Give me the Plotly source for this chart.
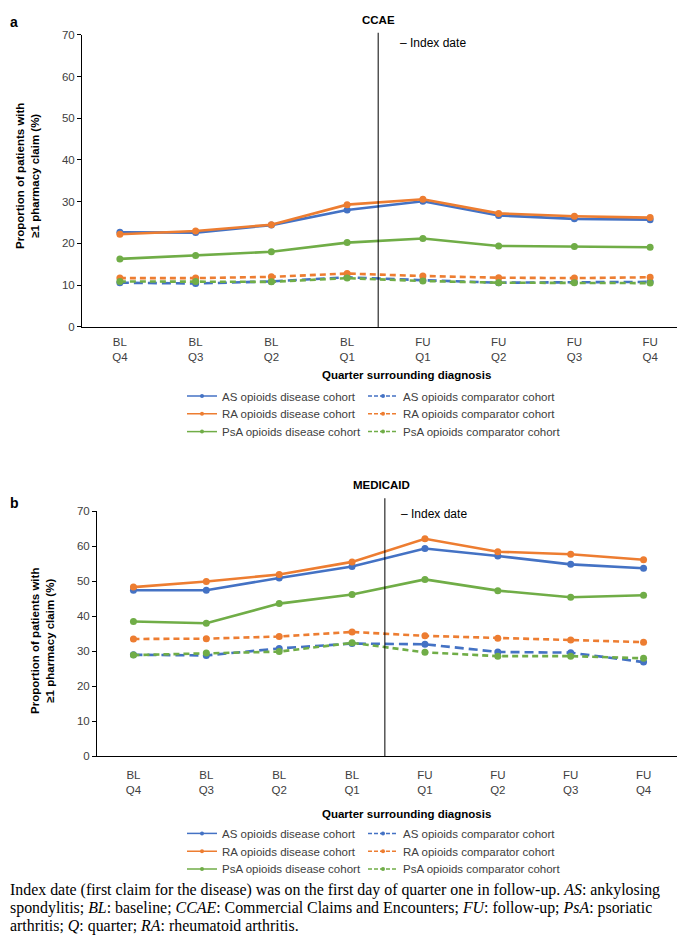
import plotly.graph_objects as go

# The page body adds an 8px margin, so all page-pixel positions below are
# shifted by OFF; the figure is allowed to run past the right window edge.
PAGE_W, PAGE_H = 685, 948
OFF = 8
W, H = PAGE_W, PAGE_H - OFF

quarters = ["BL<br>Q4", "BL<br>Q3", "BL<br>Q2", "BL<br>Q1", "FU<br>Q1", "FU<br>Q2", "FU<br>Q3", "FU<br>Q4"]

series_names = [
    "AS opioids disease cohort", "RA opioids disease cohort", "PsA opioids disease cohort",
    "AS opioids comparator cohort", "RA opioids comparator cohort", "PsA opioids comparator cohort",
]

# Panel a: CCAE
ccae_as_dis = [22.7, 22.6, 24.4, 28.0, 30.1, 26.7, 25.9, 25.7]
ccae_ra_dis = [22.2, 23.0, 24.5, 29.3, 30.6, 27.2, 26.5, 26.2]
ccae_psa_dis = [16.3, 17.1, 18.0, 20.2, 21.2, 19.4, 19.3, 19.1]
ccae_as_comp = [10.6, 10.4, 10.9, 11.9, 11.2, 10.6, 10.7, 10.8]
ccae_ra_comp = [11.7, 11.7, 12.0, 12.8, 12.2, 11.8, 11.7, 11.9]
ccae_psa_comp = [10.9, 10.9, 10.8, 11.7, 11.0, 10.6, 10.6, 10.5]

# Panel b: MEDICAID
med_as_dis = [47.4, 47.4, 50.9, 54.2, 59.3, 57.2, 54.8, 53.7]
med_ra_dis = [48.3, 49.9, 51.9, 55.5, 62.1, 58.4, 57.7, 56.1]
med_psa_dis = [38.5, 38.0, 43.6, 46.2, 50.5, 47.3, 45.4, 46.0]
med_as_comp = [29.0, 28.8, 30.8, 32.2, 32.0, 29.8, 29.6, 26.9]
med_ra_comp = [33.5, 33.6, 34.2, 35.5, 34.4, 33.7, 33.2, 32.6]
med_psa_comp = [28.9, 29.5, 29.9, 32.4, 29.7, 28.6, 28.6, 28.0]

y_ticks = [0, 10, 20, 30, 40, 50, 60, 70]

BLUE, ORANGE, GREEN = "#4472C4", "#ED7D31", "#70AD47"
colors = [BLUE, ORANGE, GREEN, BLUE, ORANGE, GREEN]
dashes = ["solid", "solid", "solid", "9px,5px", "6px,4px", "6px,4px"]

FONT = "Liberation Sans, Arial, sans-serif"
TXT = "#404040"


def px_x(p):
    return (p - OFF) / W


def px_y(p):
    return 1 - (p - OFF) / H


fig = go.Figure()

panels = [
    ("x", "y", [ccae_as_dis, ccae_ra_dis, ccae_psa_dis, ccae_as_comp, ccae_ra_comp, ccae_psa_comp], 0),
    ("x2", "y2", [med_as_dis, med_ra_dis, med_psa_dis, med_as_comp, med_ra_comp, med_psa_comp], 6),
]

for xa, ya, data, leg0 in panels:
    for i, vals in enumerate(data):
        fig.add_trace(go.Scatter(
            x=quarters, y=vals, xaxis=xa, yaxis=ya, mode="lines+markers",
            name=series_names[i], showlegend=False,
            line=dict(color=colors[i], width=2.6, dash=dashes[i]),
            marker=dict(color=colors[i], size=7, symbol="circle"),
        ))
    # legend entries (thin sample lines), one legend per entry for exact placement
    for i in range(6):
        k = leg0 + i + 1
        fig.add_trace(go.Scatter(
            x=[None], y=[None], xaxis=xa, yaxis=ya, mode="lines+markers",
            name=series_names[i], showlegend=True,
            legend="legend" if k == 1 else f"legend{k}",
            line=dict(color=colors[i], width=1.5, dash="solid" if i < 3 else "4px,2px"),
            marker=dict(color=colors[i], size=4),
        ))

axis_common = dict(
    showgrid=False, zeroline=False, showline=True, linecolor="#000000", linewidth=1,
)

# panel geometry (page pixels)
A = dict(l=82, r=688, t=29, b=325)
B = dict(l=97, r=680, t=511.5, b=760)

fig.update_layout(
    width=W, height=H, margin=dict(l=0, r=0, t=0, b=0),
    paper_bgcolor="white", plot_bgcolor="white",
    font=dict(family=FONT, size=11, color=TXT),
    xaxis=dict(domain=[px_x(A["l"]), px_x(A["r"])], anchor="y", type="category",
               categoryorder="array", categoryarray=quarters, range=[-0.5, 7.5],
               ticks="", ticklabelstandoff=4, tickfont=dict(size=11.5, color=TXT), **axis_common),
    yaxis=dict(domain=[px_y(A["b"]), px_y(A["t"])], anchor="x", range=[0, 70],
               tickvals=y_ticks, ticks="outside", ticklen=4, tickcolor="#000000",
               tickfont=dict(size=11.5, color=TXT), **axis_common),
    xaxis2=dict(domain=[px_x(B["l"]), px_x(B["r"])], anchor="y2", type="category",
                categoryorder="array", categoryarray=quarters, range=[-0.5, 7.5],
                ticks="", ticklabelstandoff=8, tickfont=dict(size=11.5, color=TXT), **axis_common),
    yaxis2=dict(domain=[px_y(B["b"]), px_y(B["t"])], anchor="x2", range=[0, 70],
                tickvals=y_ticks, ticks="outside", ticklen=4, tickcolor="#000000",
                tickfont=dict(size=11.5, color=TXT), **axis_common),
)

leg_common = dict(orientation="v", xanchor="left", yanchor="middle", bgcolor="rgba(0,0,0,0)",
                  font=dict(size=11.5, color=TXT, family=FONT), itemwidth=30,
                  itemclick=False, itemdoubleclick=False)
legend_rows = {"a": [395, 413, 431], "b": [838, 856, 874]}
col_text_x = [222, 403]  # page x where legend text starts
legends = {}
for p_idx, key in enumerate(["a", "b"]):
    for i in range(6):
        k = p_idx * 6 + i + 1
        col = 0 if i < 3 else 1
        row = i % 3
        name = "legend" if k == 1 else f"legend{k}"
        legends[name] = dict(x=px_x(col_text_x[col] - 40), y=px_y(legend_rows[key][row]), **leg_common)
fig.update_layout(**legends)

# Index date lines
fig.add_shape(type="line", xref="x", yref="paper", x0=3.41, x1=3.41,
              y0=px_y(A["b"]), y1=px_y(A["t"] - 2), line=dict(color="#000000", width=1))
fig.add_shape(type="line", xref="x2", yref="paper", x0=3.45, x1=3.45,
              y0=px_y(B["b"]), y1=px_y(B["t"] - 13), line=dict(color="#000000", width=1))

ann = []


def add_ann(text, x, y, size=11, bold=False, xanchor="center", yanchor="middle", angle=0,
            family=FONT, color=TXT, align="center"):
    if bold:
        text = "<b>" + text + "</b>"
    ann.append(dict(text=text, x=px_x(x), y=px_y(y), xref="paper", yref="paper",
                    showarrow=False, xanchor=xanchor, yanchor=yanchor, textangle=angle,
                    font=dict(size=size, family=family, color=color), align=align))


# panel labels
add_ann("a", OFF, OFF - 2, size=14, bold=True, xanchor="left", yanchor="top", color="#000000")
add_ann("b", OFF, 503, size=14, bold=True, xanchor="left", color="#000000")
# titles
add_ann("CCAE", 378, 14, size=11.5, bold=True, color="#000000")
add_ann("MEDICAID", 381, 485, size=11.5, bold=True, color="#000000")
# index date
add_ann("– Index date", 398, 37, size=12, xanchor="left", color="#000000")
add_ann("– Index date", 399, 514, size=12, xanchor="left", color="#000000")
# y titles
add_ann("Proportion of patients with<br>≥1 pharmacy claim (%)", 28, 172, size=11.5, bold=True,
        angle=-90, color="#000000")
add_ann("Proportion of patients with<br>≥1 pharmacy claim (%)", 43, 643, size=11.5, bold=True,
        angle=-90, color="#000000")
# x titles
add_ann("Quarter surrounding diagnosis", 406, 374, size=11.5, bold=True, color="#000000")
add_ann("Quarter surrounding diagnosis", 406, 818, size=11.5, bold=True, color="#000000")

# caption
SERIF = "Liberation Serif, Times New Roman, serif"
cap_lines = [
    "Index date (first claim for the disease) was on the first day of quarter one in follow-up. <i>AS</i>: ankylosing",
    "spondylitis; <i>BL</i>: baseline; <i>CCAE</i>: Commercial Claims and Encounters; <i>FU</i>: follow-up; <i>PsA</i>: psoriatic",
    "arthritis; <i>Q</i>: quarter; <i>RA</i>: rheumatoid arthritis.",
]
for k, line in enumerate(cap_lines):
    add_ann(line, OFF, 895 + 18.3 * k, size=15.9, xanchor="left", family=SERIF, color="#000000",
            align="left")

fig.update_layout(annotations=ann)

fig.write_html("out.html")
